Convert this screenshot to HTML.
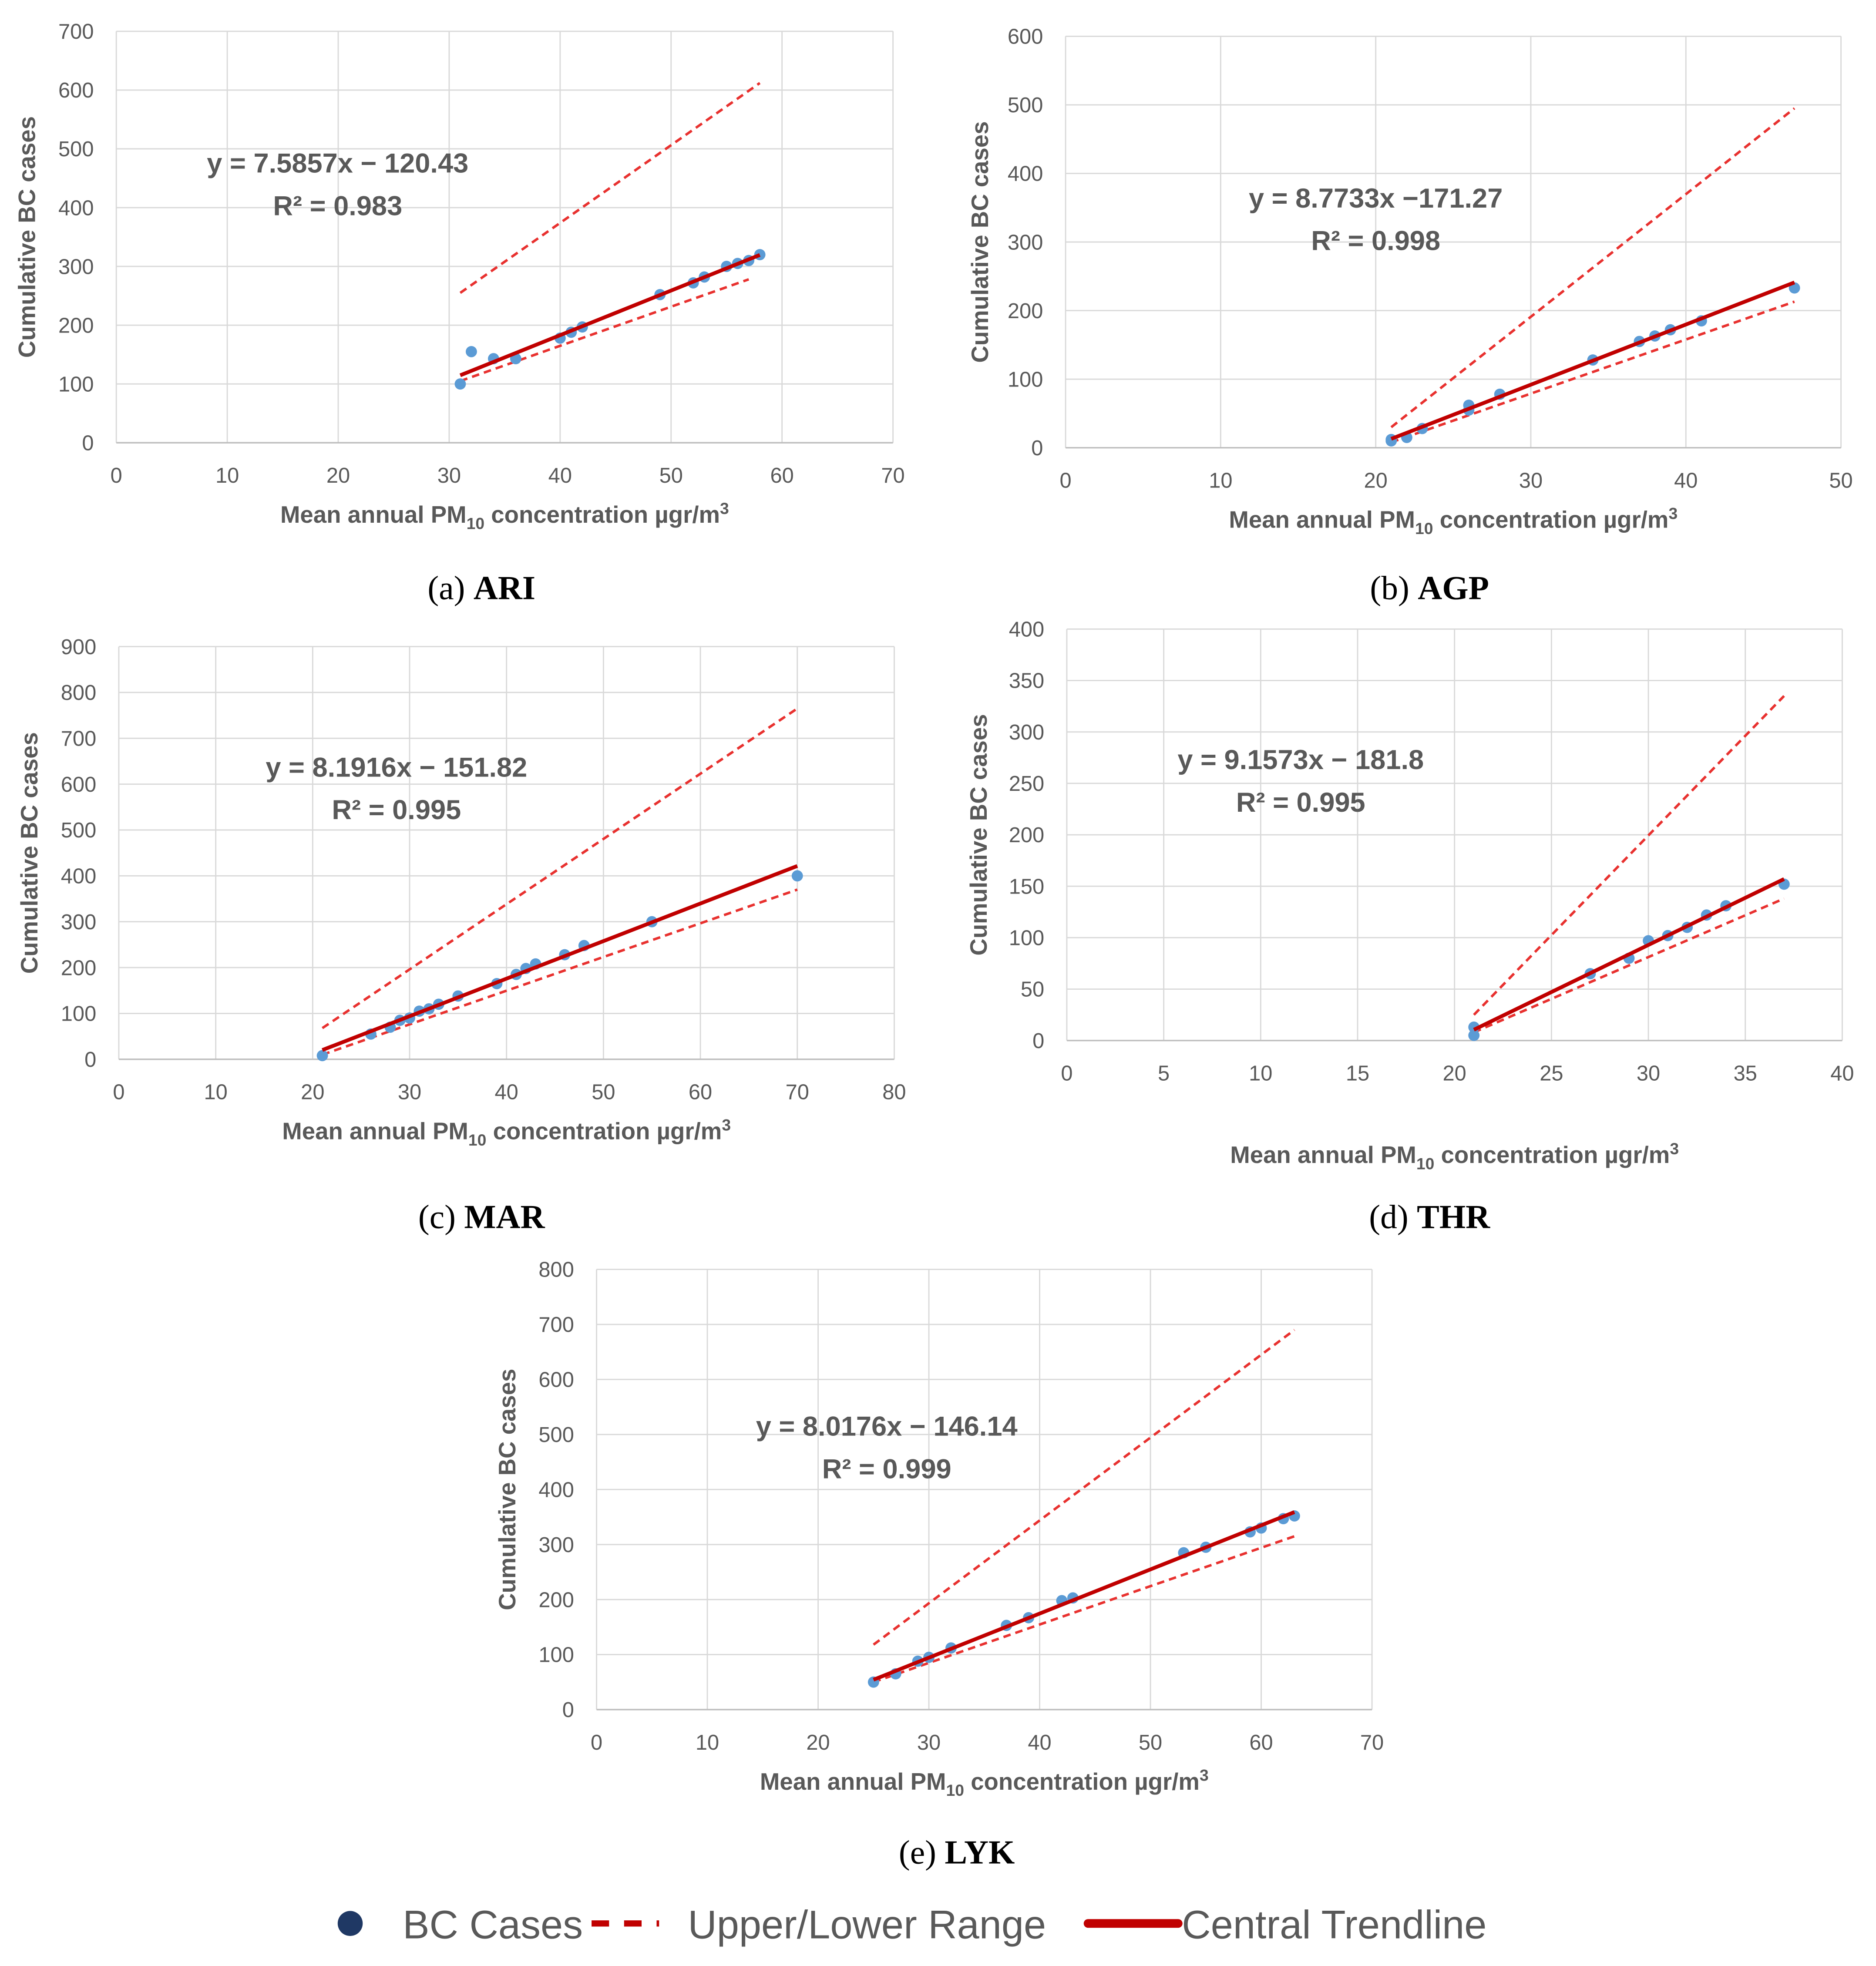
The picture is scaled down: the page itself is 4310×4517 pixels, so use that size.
<!DOCTYPE html>
<html><head><meta charset="utf-8"><style>
html,body{margin:0;padding:0;background:#fff;}
svg{display:block;}
text{font-family:"Liberation Sans",sans-serif;}
</style></head><body>
<svg id="fig" xmlns="http://www.w3.org/2000/svg" width="4310" height="4517" viewBox="0 0 1500 1572">
<rect width="1500" height="1572" fill="#fff"/>
</svg>
<script>
// Panel data (x = mean annual PM10, y = cumulative BC cases)
const ariX = [31,32,34,36,40,41,42,49,52,53,55,56,57,58];
const ariY = [100,155,143,143,178,188,197,252,272,282,300,305,310,320];
const ariUpper = [[31,255],[58,612]];
const ariLower = [[31,105],[57,278]];
const ariXTicks = [0,10,20,30,40,50,60,70];
const ariYTicks = [0,100,200,300,400,500,600,700];

const agpX = [21,21,22,23,26,26,28,34,37,38,39,41,47];
const agpY = [10,12,15,28,55,62,78,128,155,163,172,185,233];
const agpUpper = [[21,30],[47,495]];
const agpLower = [[21,8],[47,213]];
const agpXTicks = [0,10,20,30,40,50];
const agpYTicks = [0,100,200,300,400,500,600];

const marX = [21,26,28,29,30,31,32,33,35,39,41,42,43,46,48,55,70];
const marY = [8,55,70,85,90,105,110,120,138,165,185,198,208,228,248,300,400];
const marUpper = [[21,68],[70,765]];
const marLower = [[21,10],[70,370]];
const marXTicks = [0,10,20,30,40,50,60,70,80];
const marYTicks = [0,100,200,300,400,500,600,700,800,900];

const thrX = [21,21,27,29,30,31,32,33,34,37];
const thrY = [5,13,65,80,97,102,110,122,131,152];
const thrUpper = [[21,25],[37,335]];
const thrLower = [[21,8],[37,138]];
const thrXTicks = [0,5,10,15,20,25,30,35,40];
const thrYTicks = [0,50,100,150,200,250,300,350,400];

const lykX = [25,27,29,30,32,37,39,42,43,53,55,59,60,62,63];
const lykY = [50,65,88,95,112,153,167,198,203,285,295,323,330,347,352];
const lykUpper = [[25,118],[63,690]];
const lykLower = [[25,50],[63,315]];
const lykXTicks = [0,10,20,30,40,50,60,70];
const lykYTicks = [0,100,200,300,400,500,600,700,800];

const panels = [
 {id:'ari',X:ariX,Y:ariY,U:ariUpper,L:ariLower,xt:ariXTicks,yt:ariYTicks,slope:7.5857,icpt:-120.43,eq:'y = 7.5857x − 120.43',r2:'R² = 0.983',
  box:[93,25,714,354],eqPos:[270,130],titleY:410,ytx:28,cap:'(a) ARI',capPos:[385,470]},
 {id:'agp',X:agpX,Y:agpY,U:agpUpper,L:agpLower,xt:agpXTicks,yt:agpYTicks,slope:8.7733,icpt:-171.27,eq:'y = 8.7733x −171.27',r2:'R² = 0.998',
  box:[852,29,1472,358],eqPos:[1100,158],titleY:414,ytx:790,cap:'(b) AGP',capPos:[1143,470]},
 {id:'mar',X:marX,Y:marY,U:marUpper,L:marLower,xt:marXTicks,yt:marYTicks,slope:8.1916,icpt:-151.82,eq:'y = 8.1916x − 151.82',r2:'R² = 0.995',
  box:[95,517,715,847],eqPos:[317,613],titleY:903,ytx:30,cap:'(c) MAR',capPos:[385,973]},
 {id:'thr',X:thrX,Y:thrY,U:thrUpper,L:thrLower,xt:thrXTicks,yt:thrYTicks,slope:9.1573,icpt:-181.8,eq:'y = 9.1573x − 181.8',r2:'R² = 0.995',
  box:[853,503,1473,832],eqPos:[1040,607],titleY:922,ytx:789,cap:'(d) THR',capPos:[1143,973]},
 {id:'lyk',X:lykX,Y:lykY,U:lykUpper,L:lykLower,xt:lykXTicks,yt:lykYTicks,slope:8.0176,icpt:-146.14,eq:'y = 8.0176x − 146.14',r2:'R² = 0.999',
  box:[477,1015,1097,1367],eqPos:[709,1140],titleY:1423,ytx:412,cap:'(e) LYK',capPos:[765,1481]}
];
const NS='http://www.w3.org/2000/svg';
const svg=document.getElementById('fig');
function mk(tag,attrs,parent,txt){const e=document.createElementNS(NS,tag);for(const k in attrs)e.setAttribute(k,attrs[k]);if(txt!==undefined)e.textContent=txt;(parent||svg).appendChild(e);return e;}
panels.forEach(p=>{
 const g=mk('g',{});
 
 
 const [x0,y0,x1,y1]=p.box;
 const xmax=p.xt[p.xt.length-1], ymax=p.yt[p.yt.length-1];
 const sx=v=>x0+(v/xmax)*(x1-x0);
 const sy=v=>y1-(v/ymax)*(y1-y0);
 p.xt.forEach(t=>{
  mk('line',{x1:sx(t),x2:sx(t),y1:y0,y2:y1,stroke:'#d9d9d9','stroke-width':1},g);
  const tl=mk('text',{x:sx(t),y:y1+32,'text-anchor':'middle','font-size':17,fill:'#595959'},g,String(t));
  
  
 });
 p.yt.forEach(t=>{
  mk('line',{x1:x0,x2:x1,y1:sy(t),y2:sy(t),stroke:'#d9d9d9','stroke-width':1},g);
  const tl=mk('text',{x:x0-18,y:sy(t)+6,'text-anchor':'end','font-size':17,fill:'#595959'},g,String(t));
  
  
 });
 mk('line',{x1:x0,x2:x1,y1:y1,y2:y1,stroke:'#bfbfbf','stroke-width':1.2},g);
 [p.U,p.L].forEach((r,i)=>{
  const l=mk('line',{x1:sx(r[0][0]),y1:sy(r[0][1]),x2:sx(r[1][0]),y2:sy(r[1][1]),stroke:'#e8312f','stroke-width':2,'stroke-dasharray':'6,4'},g);
  
  
 });
 p.X.forEach((xv,i)=>{
  const c=mk('circle',{cx:sx(xv),cy:sy(p.Y[i]),r:4.5,fill:'#5b9bd5'},g);
  
  
 });
 const xa=Math.min(...p.X), xb=Math.max(...p.X);
 const tr=mk('line',{x1:sx(xa),y1:sy(p.slope*xa+p.icpt),x2:sx(xb),y2:sy(p.slope*xb+p.icpt),stroke:'#c00000','stroke-width':3},g);
 
 
 const e1=mk('text',{x:p.eqPos[0],y:p.eqPos[1]+8,'text-anchor':'middle','font-size':22,'font-weight':'bold',fill:'#595959'},g,p.eq);
 
 
 const e2=mk('text',{x:p.eqPos[0],y:p.eqPos[1]+42,'text-anchor':'middle','font-size':22,'font-weight':'bold',fill:'#595959'},g,p.r2);
 
 
 const xt=mk('text',{x:(x0+x1)/2,y:p.titleY+8,'text-anchor':'middle','font-size':19,'font-weight':'bold',fill:'#595959'},g);
 
 
 xt.innerHTML='Mean annual PM<tspan font-size="13" dy="5">10</tspan><tspan dy="-5"> concentration µgr/m</tspan><tspan font-size="13" dy="-7">3</tspan>';
 const yc=(y0+y1)/2;
 const yt=mk('text',{x:p.ytx,y:yc,'text-anchor':'middle','font-size':19,'font-weight':'bold',fill:'#595959',transform:`rotate(-90 ${p.ytx} ${yc})`},g,'Cumulative BC cases');
 
 
 const cp=mk('text',{x:p.capPos[0],y:p.capPos[1]+9,'text-anchor':'middle','font-size':27,fill:'#000'},g);
 
 
 const parts=p.cap.split(' ');
 cp.innerHTML=parts[0]+' <tspan font-weight="bold">'+parts[1]+'</tspan>';
 cp.setAttribute('style','font-family:"Liberation Serif",serif');
});
const lg=mk('g',{});


const d=mk('circle',{cx:280,cy:1538,r:10,fill:'#1f3864'},lg);


const t1=mk('text',{x:322,y:1550,'font-size':32,fill:'#595959'},lg,'BC Cases');


const dl=mk('line',{x1:473,x2:527,y1:1538,y2:1538,stroke:'#c00000','stroke-width':5,'stroke-dasharray':'14,12'},lg);


const t2=mk('text',{x:550,y:1550,'font-size':32,fill:'#595959'},lg,'Upper/Lower Range');


const sl=mk('line',{x1:870,x2:942,y1:1538,y2:1538,stroke:'#c00000','stroke-width':7,'stroke-linecap':'round'},lg);


const t3=mk('text',{x:945,y:1550,'font-size':32,fill:'#595959'},lg,'Central Trendline');


</script>
</body></html>
